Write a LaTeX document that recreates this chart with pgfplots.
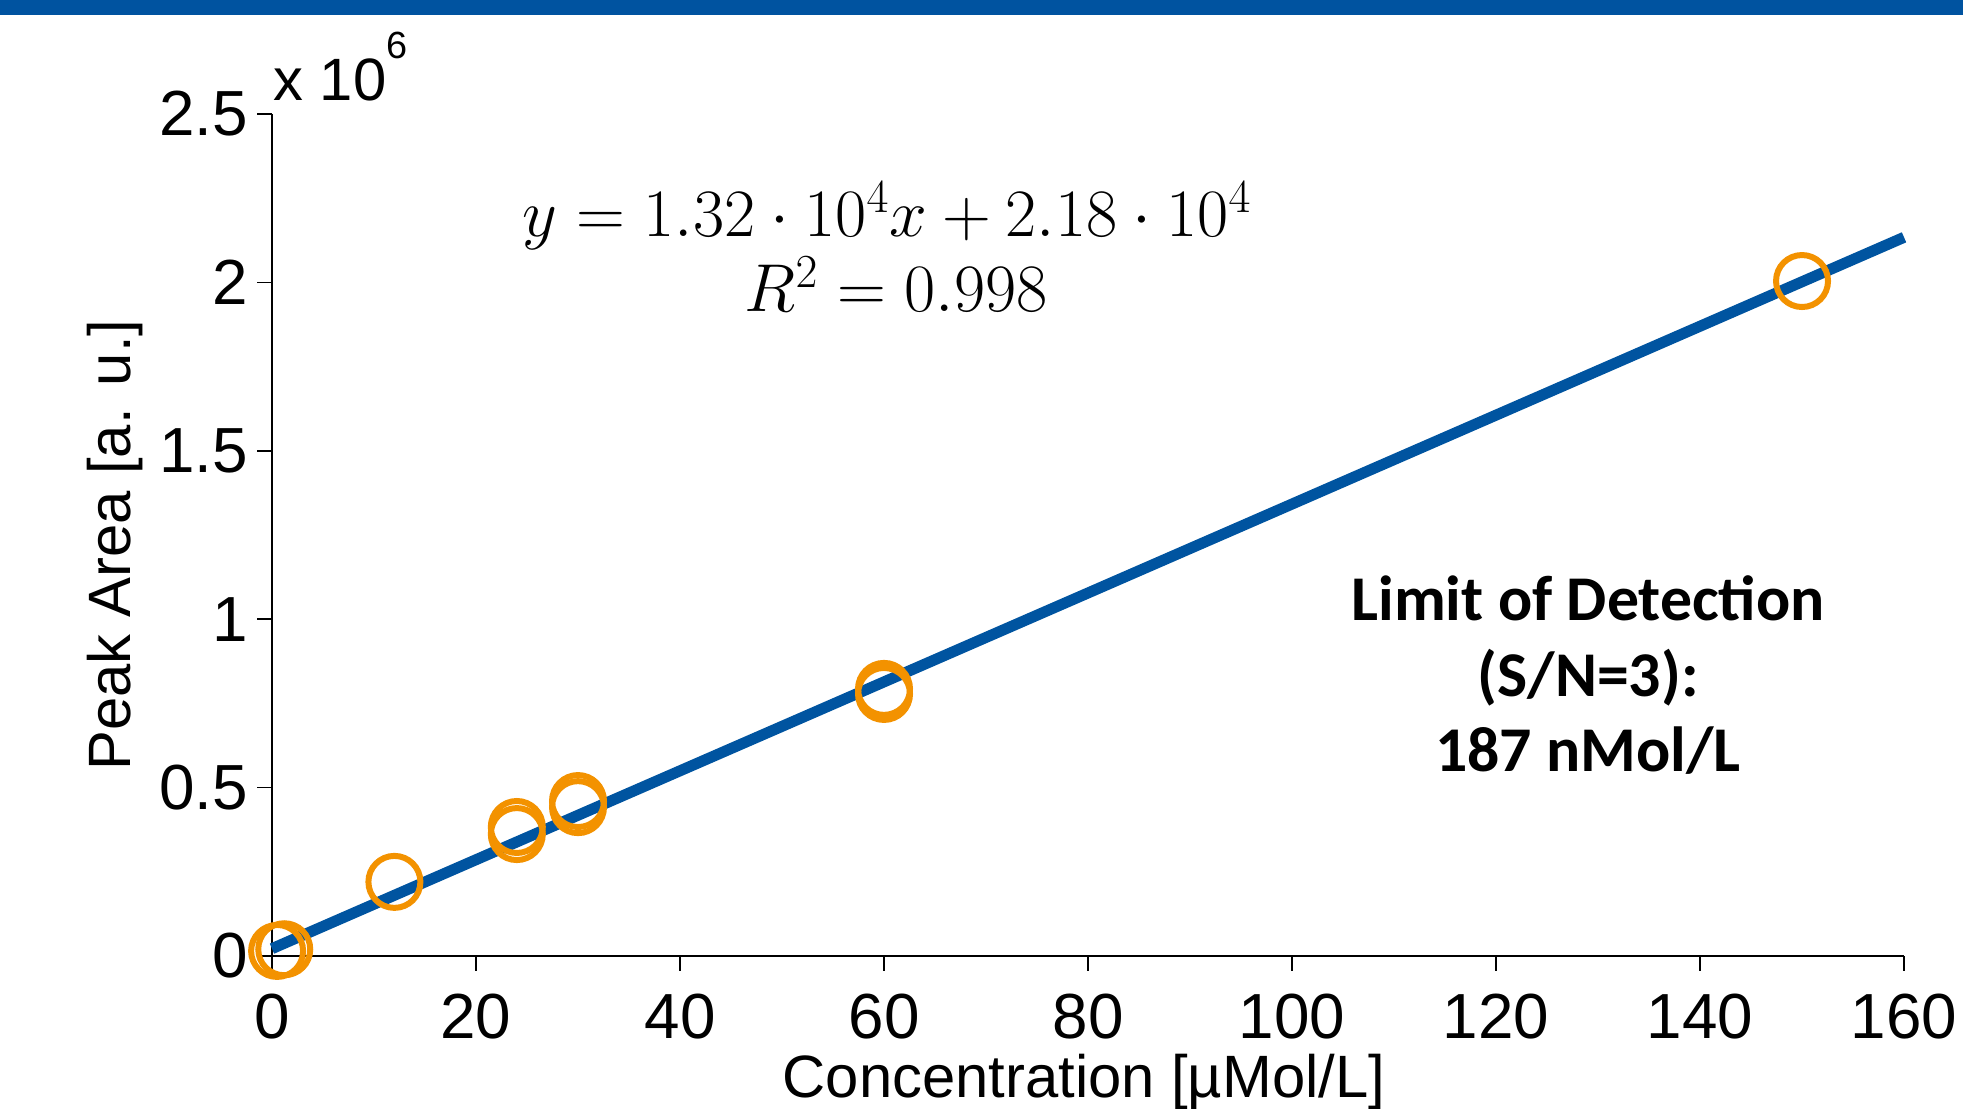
\RequirePackage{fix-cm}
\documentclass[border=0pt]{standalone}
\usepackage{fontspec}
\setmainfont{Liberation Sans}
\newfontfamily\carlito{Carlito}
\usepackage{pgfplots}
\pgfplotsset{compat=1.18}
\definecolor{topblue}{RGB}{0,83,160}
\definecolor{lineblue}{RGB}{0,84,160}
\definecolor{mkorange}{RGB}{243,146,0}
\begin{document}
\begin{tikzpicture}[x=1bp,y=1bp]
\path[use as bounding box] (0,0) rectangle (981.5,554.5);
\fill[topblue] (0,547) rectangle (981.5,554.5);
\begin{axis}[
  at={(136bp,76.5bp)}, anchor=south west,
  scale only axis, width=816bp, height=421bp,
  xmin=0, xmax=160, ymin=0, ymax=2.5,
  axis x line*=bottom, axis y line*=left,
  axis line style={-, line width=0.8bp, black},
  xtick={0,20,...,160}, ytick={0,0.5,1,1.5,2,2.5},
  tick align=outside, major tick length=7.5bp,
  tick style={line width=0.8bp, black},
  ticklabel style={font=\fontsize{32}{32}\selectfont},
  xticklabel style={yshift=-8bp},
  yticklabel style={xshift=-1bp},
  /pgf/number format/assume math mode=true,
  /pgf/number format/1000 sep={},
  clip=false,
]
\addplot[only marks, mark=o, mark size=13bp, mkorange, line width=3bp]
  coordinates {(0.5,0.015)(1.2,0.02)(12,0.22)(24,0.362)(24,0.383)(30,0.442)(30,0.460)(60,0.778)(60,0.793)(150,2.004)};
\addplot[lineblue, line width=5.5bp] coordinates {(0,0.0218)(160,2.1338)};
\end{axis}
\node[anchor=base west, inner sep=0, font=\fontsize{30}{30}\selectfont] at (136.5,504) {x 10\raisebox{21bp}{\fontsize{19}{19}\selectfont 6}};
\node[rotate=90, anchor=base, inner sep=0, font=\fontsize{30}{30}\selectfont] at (65,282) {Peak Area [a. u.]};
\node[anchor=base, inner sep=0, font=\fontsize{30}{30}\selectfont] at (542,5.5) {Concentration [µMol/L]};
\node[anchor=base, inner sep=0, font=\fontsize{34}{34}\selectfont] at (443.5,436) {$y = 1.32\cdot 10^4x + 2.18\cdot 10^4$};
\node[anchor=base, inner sep=0, font=\fontsize{34}{34}\selectfont] at (448,398.5) {$R^2 = 0.998$};
\node[anchor=base, inner sep=0, font=\carlito\bfseries\fontsize{32}{32}\selectfont] at (794,244) {Limit of Detection};
\node[anchor=base, inner sep=0, font=\carlito\bfseries\fontsize{32}{32}\selectfont] at (794,206) {(S/N=3):};
\node[anchor=base, inner sep=0, font=\carlito\bfseries\fontsize{32}{32}\selectfont] at (794,168.5) {187 nMol/L};
\end{tikzpicture}
\end{document}
